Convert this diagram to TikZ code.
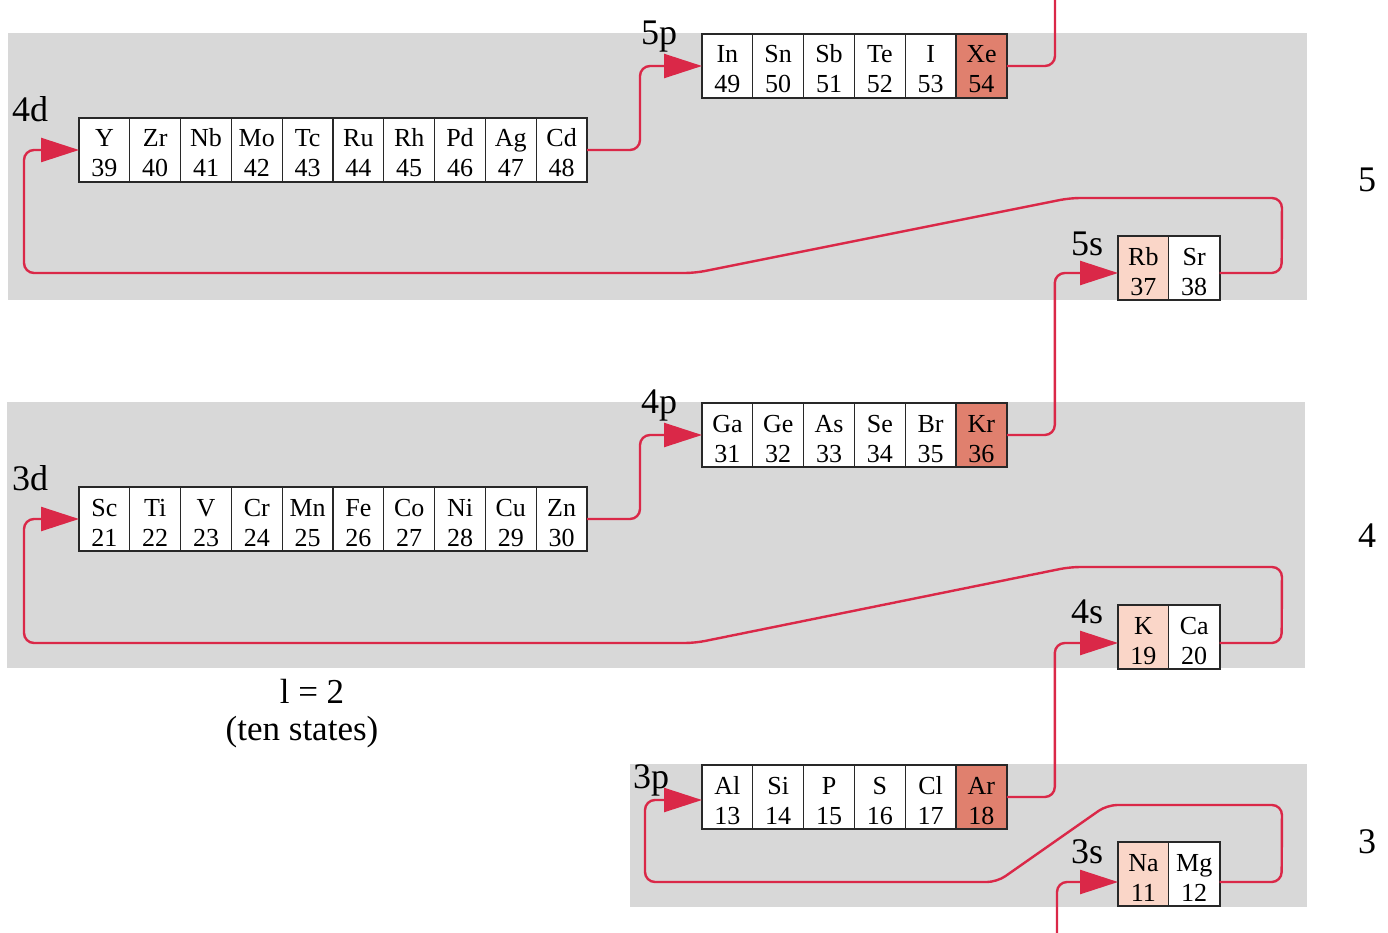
\documentclass[tikz,border=0pt]{standalone}
\usepackage{fontspec}
\setmainfont{Liberation Serif}
\usetikzlibrary{arrows.meta,calc,fit}

\definecolor{bandgray}{RGB}{216,216,216}
\definecolor{linkred}{RGB}{218,40,72}
\definecolor{noble}{RGB}{224,128,110}
\definecolor{alkali}{RGB}{250,214,200}
\definecolor{edge}{RGB}{40,40,40}

% one periodic-table cell: symbol on top, atomic number below
\newcommand\elem[2]{\vbox to 64pt{\offinterlineskip\kern29pt
  \hbox to 50.8pt{\hss\smash{#1}\hss}\kern30pt
  \hbox to 50.8pt{\hss\smash{#2}\hss}\vss}}

\begin{document}
\begin{tikzpicture}[x=1pt,y=-1pt,
  cellbox/.style={draw=edge,line width=1.3pt,inner sep=0pt,outer sep=0pt,
    anchor=north west,font=\fontsize{26}{30}\selectfont},
  blockframe/.style={draw=edge,line width=2.2pt,inner sep=0pt},
  shell/.style={font=\fontsize{36}{40}\selectfont,anchor=base west,inner sep=0pt},
  caption/.style={font=\fontsize{35}{40}\selectfont,anchor=base,inner sep=0pt},
  link/.style={draw=linkred,line width=2.4pt,rounded corners=10pt},
  feed/.style={link,-{Triangle[length=38pt,width=24pt]}},
  bandbox/.style={fill=bandgray,draw=none}]

\useasboundingbox (0,0) rectangle (1388,933);

% shell bands
\path[bandbox] (8,33) rectangle (1307,300);
\path[bandbox] (7,402) rectangle (1305,668);
\path[bandbox] (630,764) rectangle (1307,907);

% n = 5
\foreach \s/\n/\c [count=\i from 0] in {Y/39/white,Zr/40/white,Nb/41/white,Mo/42/white,Tc/43/white,Ru/44/white,Rh/45/white,Pd/46/white,Ag/47/white,Cd/48/white}
  \node[cellbox,fill=\c] (\s) at (79+\i*50.8,118) {\elem{\s}{\n}};
\foreach \s/\n/\c [count=\i from 0] in {In/49/white,Sn/50/white,Sb/51/white,Te/52/white,I/53/white,Xe/54/noble}
  \node[cellbox,fill=\c] (\s) at (702+\i*50.8,34) {\elem{\s}{\n}};
\foreach \s/\n/\c [count=\i from 0] in {Rb/37/alkali,Sr/38/white}
  \node[cellbox,fill=\c] (\s) at (1118+\i*50.8,236) {\elem{\s}{\n}};

% n = 4
\foreach \s/\n/\c [count=\i from 0] in {Sc/21/white,Ti/22/white,V/23/white,Cr/24/white,Mn/25/white,Fe/26/white,Co/27/white,Ni/28/white,Cu/29/white,Zn/30/white}
  \node[cellbox,fill=\c] (\s) at (79+\i*50.8,487) {\elem{\s}{\n}};
\foreach \s/\n/\c [count=\i from 0] in {Ga/31/white,Ge/32/white,As/33/white,Se/34/white,Br/35/white,Kr/36/noble}
  \node[cellbox,fill=\c] (\s) at (702+\i*50.8,403) {\elem{\s}{\n}};
\foreach \s/\n/\c [count=\i from 0] in {K/19/alkali,Ca/20/white}
  \node[cellbox,fill=\c] (\s) at (1118+\i*50.8,605) {\elem{\s}{\n}};

% n = 3
\foreach \s/\n/\c [count=\i from 0] in {Al/13/white,Si/14/white,P/15/white,S/16/white,Cl/17/white,Ar/18/noble}
  \node[cellbox,fill=\c] (\s) at (702+\i*50.8,765) {\elem{\s}{\n}};
\foreach \s/\n/\c [count=\i from 0] in {Na/11/alkali,Mg/12/white}
  \node[cellbox,fill=\c] (\s) at (1118+\i*50.8,842) {\elem{\s}{\n}};

% outer frames of each subshell
\node[blockframe,fit=(Y)(Cd)] (d4) {};
\node[blockframe,fit=(In)(Xe)] (p5) {};
\node[blockframe,fit=(Rb)(Sr)] (s5) {};
\node[blockframe,fit=(Sc)(Zn)] (d3) {};
\node[blockframe,fit=(Ga)(Kr)] (p4) {};
\node[blockframe,fit=(K)(Ca)] (s4) {};
\node[blockframe,fit=(Al)(Ar)] (p3) {};
\node[blockframe,fit=(Na)(Mg)] (s3) {};

% subshell labels
\node[shell] (t4d) at (12,122) {4d};
\node[shell] (t5p) at (641,45) {5p};
\node[shell] (t5s) at (1071,255) {5s};
\node[shell] (t3d) at (12,490) {3d};
\node[shell] (t4p) at (641,413) {4p};
\node[shell] (t4s) at (1071,623) {4s};
\node[shell] (t3p) at (633,788) {3p};
\node[shell] (t3s) at (1071,863) {3s};

% principal quantum numbers
\node[shell] (n5) at (1358,192) {5};
\node[shell] (n4) at (1358,547) {4};
\node[shell] (n3) at (1358,853) {3};

% caption for the d block
\node[caption] (lval) at (312,703) {l = 2};
\node[caption] (lten) at (302,740) {(ten states)};

% filling order
\coordinate (exit) at (1055,-6);
\coordinate (entry) at (1057,940);

\draw[link] (Xe.east) -| (exit);
\draw[feed] (Cd.east) -- ++(53,0) |- (In.west);
\draw[feed] ($(Sr.east)+(0,5)$) -- ++(62,0) -- (1282,198) -- (1070,198)
  -- (695,273) -- (24,273) |- (Y.west);
\draw[feed] (Kr.east) -- ++(48,0) |- ($(Rb.west)+(0,5)$);

\draw[feed] (Zn.east) -- ++(53,0) |- (Ga.west);
\draw[feed] ($(Ca.east)+(0,6)$) -- ++(62,0) -- (1282,567) -- (1070,567)
  -- (695,643) -- (24,643) |- (Sc.west);
\draw[feed] (Ar.east) -- ++(48,0) |- ($(K.west)+(0,6)$);

\draw[feed] ($(Mg.east)+(0,8)$) -- ++(62,0) -- (1282,805) -- (1107,805)
  -- (997,882) -- (645,882) |- ($(Al.west)+(0,3)$);
\draw[feed] (entry) |- ($(Na.west)+(0,8)$);

\end{tikzpicture}
\end{document}
